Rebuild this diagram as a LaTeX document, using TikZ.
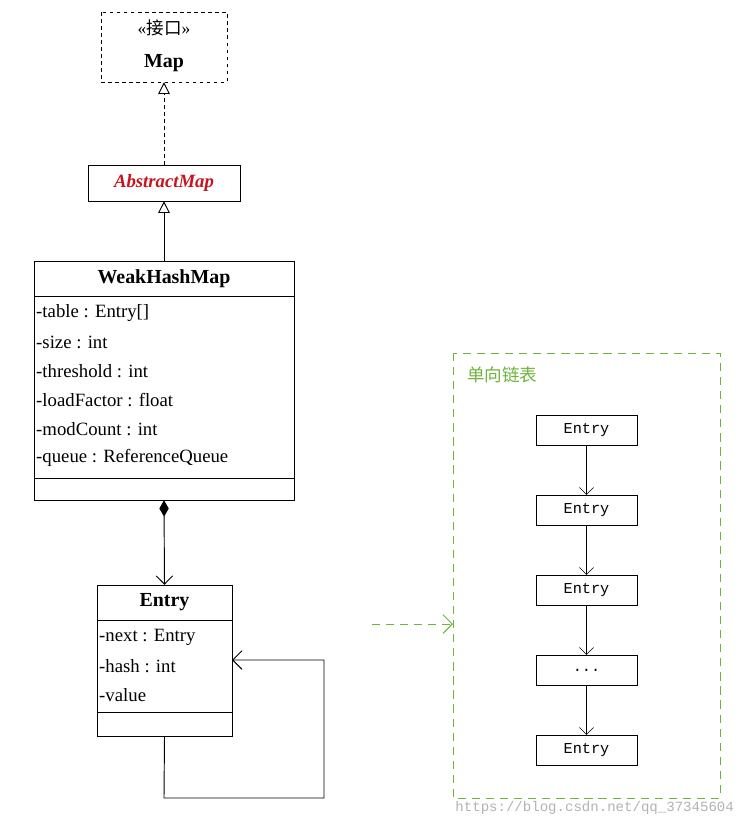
\documentclass[tikz,border=0pt]{standalone}
\usepackage{fontspec}
\setmainfont{Liberation Serif}
\newfontfamily\cjk{Noto Sans CJK SC}
\newfontfamily\mono{Liberation Mono}
\usetikzlibrary{arrows.meta}
\definecolor{lgreen}{RGB}{110,180,60}
\definecolor{mred}{RGB}{200,20,30}
\tikzset{
  attr/.style={anchor=west, inner sep=0pt, font=\fontsize{16}{16}\selectfont},
  ttl/.style={font=\fontsize{17}{17}\selectfont\bfseries},
  inh/.style={-{Triangle[open,length=10pt,width=10pt]}, thick},
  lnode/.style={draw, minimum width=3.03cm, minimum height=0.9cm, inner sep=0pt, font=\mono\fontsize{13}{13}\selectfont},
  link/.style={-{Straight Barb[length=6pt]}},
}
\begin{document}
\begin{tikzpicture}[x=0.03cm,y=-0.03cm]
\useasboundingbox (0,0) rectangle (744,829);
% Map interface
\draw[thick,dashed] (101,12) rectangle (227,82);
\node (map) [minimum width=3.78cm, minimum height=2.1cm] at (164,47) {};
\node at (164,28) {\fontsize{15}{15}\selectfont <<\cjk 接口\rmfamily>>};
\node[ttl] at (164,63) {Map};
% AbstractMap
\node (abs) [draw, minimum width=4.56cm, minimum height=1.08cm, inner sep=0pt,
  text=mred, font=\fontsize{16}{16}\selectfont\bfseries\itshape] at (164,183) {AbstractMap};
\draw[inh,dashed] (abs.north) -- (map.south);
% WeakHashMap
\draw[thick] (34,261) rectangle (294,500);
\draw[thick] (34,296) -- (294,296) (34,478) -- (294,478);
\node (whm) [minimum width=7.8cm, minimum height=7.17cm] at (164,380.5) {};
\node[ttl] at (164,279) {WeakHashMap};
\foreach \t [count=\i from 0] in {-table : Entry[], -size : int, -threshold : int,
  -loadFactor : float, -modCount : int, -queue : ReferenceQueue}
  \node[attr] at (36,313+29*\i) {\t};
\draw[inh] (whm.north) -- (abs.south);
% Entry
\draw[thick] (97,585) rectangle (232,736);
\draw[thick] (97,620) -- (232,620) (97,712) -- (232,712);
\node (entry) [minimum width=4.05cm, minimum height=4.53cm] at (164.5,660.5) {};
\node[ttl] at (164.5,602) {Entry};
\foreach \t [count=\i from 0] in {-next : Entry, -hash : int, -value}
  \node[attr] at (99,637+29*\i) {\t};
\draw[thick, {Diamond[length=14pt,width=8pt]}-{Straight Barb[length=7pt]}] (whm.south) -- (entry.north);
\coordinate (c1) at (164,798);
\coordinate (c2) at (324,798);
\coordinate (c3) at (324,660);
\coordinate (c4) at (232,660);
\draw[thick,-{Straight Barb[length=8pt]}] (entry.south) -- (c1) -- (c2) -- (c3) -- (c4);
% linked list
\draw[lgreen, thick, dash pattern=on 7pt off 5pt] (453,353) rectangle (720,798);
\node[anchor=west, text=lgreen, font=\cjk\fontsize{15}{15}\selectfont] at (463,375) {单向链表};
\coordinate (g1) at (372,624);
\coordinate (g2) at (453,624);
\draw[lgreen, thick, dash pattern=on 7pt off 5pt, -{Straight Barb[length=8pt]}] (g1) -- (g2);
\node[lnode] (e1) at (586.5,430) {Entry};
\node[lnode] (e2) at (586.5,510) {Entry};
\node[lnode] (e3) at (586.5,590) {Entry};
\node[lnode] (e4) at (586.5,670) {...};
\node[lnode] (e5) at (586.5,750) {Entry};
\draw[link] (e1) -- (e2);
\draw[link] (e2) -- (e3);
\draw[link] (e3) -- (e4);
\draw[link] (e4) -- (e5);
\node[anchor=east, text=gray!60, font=\mono\fontsize{12}{12}\selectfont] at (738,808) {https://blog.csdn.net/qq\_37345604};
\end{tikzpicture}
\end{document}
